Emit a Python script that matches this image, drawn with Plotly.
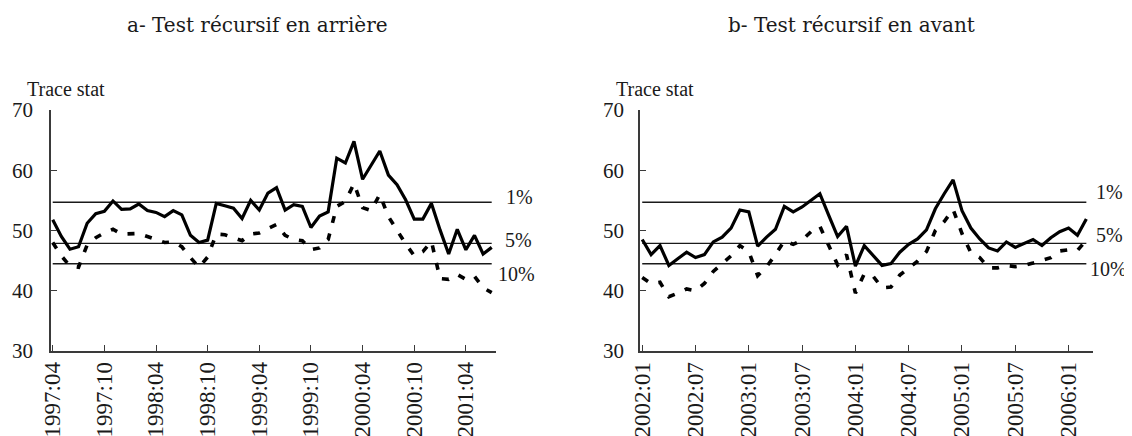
import plotly.graph_objects as go

# ---------------- data ----------------
left_ticklabels = ["1997:04", "1997:10", "1998:04", "1998:10", "1999:04",
                   "1999:10", "2000:04", "2000:10", "2001:04"]
right_ticklabels = ["2002:01", "2002:07", "2003:01", "2003:07", "2004:01",
                    "2004:07", "2005:01", "2005:07", "2006:01"]

# a- backward recursive test (monthly, 1997:04 -> 2001:07)
left_solid = [51.8, 49.0, 46.9, 47.3, 51.2, 52.8, 53.2, 54.9, 53.5, 53.6,
              54.4, 53.3, 53.0, 52.3, 53.3, 52.6, 49.2, 48.0, 48.4, 54.5,
              54.1, 53.7, 52.0, 55.0, 53.4, 56.2, 57.1, 53.4, 54.3, 54.0,
              50.5, 52.4, 53.1, 62.0, 61.2, 64.8, 58.5, 60.9, 63.2, 59.2,
              57.6, 55.1, 51.9, 51.9, 54.5, 50.1, 46.1, 50.2, 46.8, 49.2,
              46.1, 47.2]
left_dashed = [48.0, 45.8, 44.1, 43.9, 47.6, 48.8, 49.6, 50.2, 49.4, 49.4,
               49.5, 49.0, 48.5, 48.0, 48.1, 47.3, 45.5, 43.9, 45.6, 49.4,
               49.3, 48.8, 48.3, 49.4, 49.6, 50.3, 51.0, 49.2, 48.5, 48.3,
               46.8, 47.1, 48.5, 54.0, 54.8, 57.8, 53.8, 53.3, 56.0, 52.3,
               50.0, 47.8, 45.8, 46.5, 48.2, 42.0, 41.9, 42.7, 41.9, 42.4,
               40.5, 39.7]

# b- forward recursive test (monthly, 2002:01 -> 2006:03)
right_solid = [48.5, 46.0, 47.5, 44.2, 45.3, 46.4, 45.5, 46.0, 48.1, 48.9,
               50.4, 53.4, 53.1, 47.4, 48.9, 50.2, 54.0, 53.1, 53.9, 55.0,
               56.1, 52.5, 49.0, 50.7, 44.1, 47.5, 45.9, 44.2, 44.5, 46.4,
               47.7, 48.6, 50.1, 53.6, 56.1, 58.4, 53.3, 50.4, 48.6, 47.1,
               46.6, 48.1, 47.2, 47.8, 48.5, 47.5, 48.8, 49.8, 50.4, 49.2,
               51.9]
right_dashed = [42.2, 41.2, 41.4, 39.0, 39.6, 40.3, 40.0, 41.2, 43.2, 44.5,
                45.8, 47.5, 46.5, 42.5, 44.0, 46.0, 48.3, 47.7, 48.4, 49.8,
                50.7, 47.5, 44.3, 46.0, 39.6, 42.8, 42.4, 40.5, 40.6, 42.6,
                43.8, 44.9, 46.5, 50.0, 51.5, 53.5, 49.5, 46.3, 45.5, 43.8,
                43.8, 44.2, 44.0, 44.2, 44.6, 45.0, 45.5, 46.6, 46.8, 46.7,
                48.4]

crit_values = [54.68, 47.86, 44.49]
crit_labels = ["1%", "5%", "10%"]

titles = ["a- Test récursif en arrière", "b- Test récursif en avant"]
y_title = "Trace stat"
y_ticks = [30, 40, 50, 60, 70]

# ---------------- layout helpers ----------------
W, H = 1132, 436
OFF = 8  # page body margin in the browser


def px(x):
    return (x - OFF) / W


def py(y):
    return 1 - (y - OFF) / H


SERIF = "Liberation Serif, Times New Roman, serif"
TITLE_FONT = "DejaVu Serif, serif"
INK = "#1a1a1a"
AXIS = "#3a3a3a"

fig = go.Figure()

panels = [
    dict(solid=left_solid, dashed=left_dashed, ticks=left_ticklabels,
         xa="x", ya="y", dom=[px(51), px(496)], rng=[-0.2, 51.5],
         lab_x=[519, 518, 516], lab_y=[55.6, 48.4, 42.7],
         title_x=257, ytitle_x=66, standoff=12),
    dict(solid=right_solid, dashed=right_dashed, ticks=right_ticklabels,
         xa="x2", ya="y2", dom=[px(640), px(1093)], rng=[-0.25, 50.75],
         lab_x=[1109, 1109, 1108], lab_y=[56.4, 49.2, 43.6],
         title_x=851, ytitle_x=655, standoff=10),
]

annotations = []
for k, p in enumerate(panels):
    n = len(p["solid"])
    xs = list(range(n))
    # critical value lines
    for c in crit_values:
        fig.add_trace(go.Scatter(x=[0, n - 1], y=[c, c], mode="lines",
                                 line=dict(color=INK, width=1.4),
                                 xaxis=p["xa"], yaxis=p["ya"],
                                 showlegend=False, hoverinfo="skip"))
    fig.add_trace(go.Scatter(x=xs, y=p["dashed"], mode="lines",
                             line=dict(color="black", width=3.6, dash="7px,11px"),
                             xaxis=p["xa"], yaxis=p["ya"], showlegend=False))
    fig.add_trace(go.Scatter(x=xs, y=p["solid"], mode="lines",
                             line=dict(color="black", width=3.2),
                             xaxis=p["xa"], yaxis=p["ya"], showlegend=False))

    suffix = "" if k == 0 else "2"
    tickvals = list(range(0, 6 * len(p["ticks"]), 6))
    fig.layout["xaxis" + suffix] = dict(
        domain=p["dom"], range=p["rng"], anchor="y" + suffix,
        automargin=False,
        tickvals=tickvals, ticktext=p["ticks"], tickangle=-90,
        ticks="inside", ticklen=6, tickwidth=1.4, tickcolor=AXIS,
        showline=True, linecolor=AXIS, linewidth=1.6,
        showgrid=False, zeroline=False,
        tickfont=dict(family=SERIF, size=23, color=INK),
        fixedrange=True)
    fig.layout["yaxis" + suffix] = dict(
        domain=[py(351), py(110)], range=[30, 70], anchor="x" + suffix,
        automargin=False,
        tickvals=y_ticks, ticks="inside", ticklen=6, tickwidth=1.4,
        tickcolor=AXIS, showline=True, linecolor=AXIS, linewidth=1.6,
        showgrid=False, zeroline=False, ticklabelstandoff=p["standoff"],
        tickfont=dict(family=SERIF, size=21, color=INK), fixedrange=True)

    for lbl, lx, ly in zip(crit_labels, p["lab_x"], p["lab_y"]):
        annotations.append(dict(text=lbl, x=px(lx), y=ly, xref="paper",
                                yref="y" + suffix, showarrow=False,
                                xanchor="center", yanchor="middle",
                                font=dict(family=SERIF, size=20, color=INK)))
    annotations.append(dict(text=y_title, x=px(p["ytitle_x"]), y=py(89),
                            xref="paper", yref="paper", showarrow=False,
                            xanchor="center", yanchor="middle",
                            font=dict(family=SERIF, size=20, color=INK)))
    annotations.append(dict(text=titles[k], x=px(p["title_x"]), y=py(25),
                            xref="paper", yref="paper", showarrow=False,
                            xanchor="center", yanchor="middle",
                            font=dict(family=TITLE_FONT, size=20, color=INK)))

fig.update_layout(
    width=W, height=H, margin=dict(l=0, r=0, t=0, b=0, autoexpand=False),
    paper_bgcolor="white", plot_bgcolor="white",
    annotations=annotations, showlegend=False,
)

fig.write_html("out.html")
